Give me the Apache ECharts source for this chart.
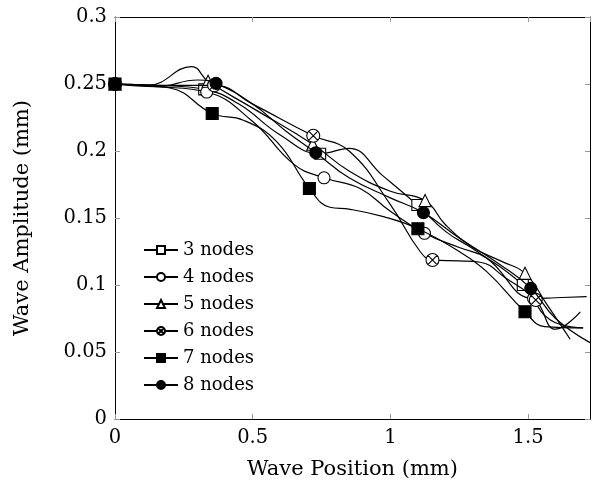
<!DOCTYPE html>
<html>
<head>
<meta charset="utf-8">
<script src="https://cdn.jsdelivr.net/npm/echarts@6/dist/echarts.min.js"></script>
<style>
  html, body { margin: 0; padding: 0; background: #fff; }
  #chart { width: 595px; height: 490px; }
</style>
</head>
<body>
<div id="chart"></div>
<script>
// series values; mk = 1 where a marker is drawn
var names = ['3 nodes', '4 nodes', '5 nodes', '6 nodes', '7 nodes', '8 nodes'];

var x3 = [0, 0.15, 0.324, 0.45, 0.6, 0.745, 0.85, 0.97, 1.098, 1.2, 1.3, 1.481, 1.58, 1.70];
var y3 = [0.25, 0.249, 0.246, 0.235, 0.212, 0.198, 0.202, 0.182, 0.1597, 0.14, 0.127, 0.1, 0.074, 0.068];
var mk3 = [1, 0, 1, 0, 0, 1, 0, 0, 1, 0, 0, 1, 0, 0];

var x4 = [0, 0.15, 0.333, 0.5, 0.65, 0.759, 0.89, 1.0, 1.124, 1.25, 1.35, 1.52, 1.6, 1.713];
var y4 = [0.25, 0.248, 0.244, 0.222, 0.19, 0.18, 0.172, 0.155, 0.1386, 0.128, 0.12, 0.09, 0.0905, 0.0913];
var mk4 = [1, 0, 1, 0, 0, 1, 0, 0, 1, 0, 0, 1, 0, 0];

var x5 = [0, 0.12, 0.278, 0.338, 0.5, 0.718, 0.85, 1.0, 1.126, 1.2, 1.3, 1.4, 1.489, 1.57, 1.653];
var y5 = [0.25, 0.249, 0.263, 0.252, 0.232, 0.205, 0.185, 0.17, 0.163, 0.145, 0.128, 0.118, 0.1087, 0.085, 0.0595];
var mk5 = [1, 0, 0, 1, 0, 1, 0, 0, 1, 0, 0, 0, 1, 0, 0];

var x6 = [0, 0.15, 0.36, 0.5, 0.72, 0.85, 1.0, 1.108, 1.153, 1.25, 1.326, 1.42, 1.528, 1.6, 1.69];
var y6 = [0.25, 0.249, 0.249, 0.235, 0.2114, 0.2, 0.16, 0.125, 0.1187, 0.118, 0.117, 0.105, 0.0888, 0.067, 0.080];
var mk6 = [1, 0, 1, 0, 1, 0, 0, 0, 1, 0, 0, 0, 1, 0, 0];

var x7 = [0, 0.2, 0.353, 0.466, 0.587, 0.706, 0.78, 0.854, 0.975, 1.1, 1.25, 1.35, 1.489, 1.56, 1.70];
var y7 = [0.25, 0.247, 0.228, 0.223, 0.207, 0.172, 0.158, 0.1565, 0.151, 0.142, 0.125, 0.11, 0.080, 0.069, 0.068];
var mk7 = [1, 0, 1, 0, 0, 1, 0, 0, 0, 1, 0, 0, 1, 0, 0];

var x8 = [0, 0.15, 0.3, 0.367, 0.5, 0.62, 0.729, 0.85, 1.0, 1.12, 1.25, 1.4, 1.51, 1.6, 1.725];
var y8 = [0.25, 0.248, 0.253, 0.2505, 0.235, 0.215, 0.1987, 0.18, 0.165, 0.154, 0.135, 0.115, 0.0975, 0.075, 0.057];
var mk8 = [1, 0, 0, 1, 0, 0, 1, 0, 0, 1, 0, 0, 1, 0, 0];

var xTicks = [0, 0.5, 1, 1.5];
var yTicks = [0, 0.05, 0.1, 0.15, 0.2, 0.25, 0.3];

var otimes = 'path://M0,-10A10,10 0 1,1 0,10A10,10 0 1,1 0,-10ZM-7.07,-7.07L7.07,7.07M7.07,-7.07L-7.07,7.07';
var symbols = ['rect', 'circle', 'triangle', otimes, 'rect', 'circle'];
var sizes = [11, 12, 12, 13, 12, 12];
var fills = ['#fff', '#fff', '#fff', '#fff', '#000', '#000'];

var FONT = 'DejaVu Serif';

function makeData(xs, ys, mk) {
	var arr = [];
	for (var i = 0; i < xs.length; i++) {
		var d = { value: [xs[i], ys[i]] };
		if (!mk[i]) d.symbol = 'none';
		arr.push(d);
	}
	return arr;
}

var all = [[x3, y3, mk3], [x4, y4, mk4], [x5, y5, mk5], [x6, y6, mk6], [x7, y7, mk7], [x8, y8, mk8]];

var series = [];
for (var s = 0; s < all.length; s++) {
	series.push({
		name: names[s],
		type: 'line',
		smooth: 0.45,
		symbol: symbols[s],
		symbolSize: sizes[s],
		showAllSymbol: true,
		lineStyle: { color: '#000', width: 1.2 },
		itemStyle: { color: fills[s], borderColor: '#000', borderWidth: 1.1, opacity: 1 },
		emphasis: { disabled: true },
		z: 2 + s,
		data: makeData(all[s][0], all[s][1], all[s][2])
	});
}

function axisBase(extra) {
	var a = {
		type: 'value',
		axisLine: { show: true, onZero: false, lineStyle: { color: '#000', width: 1 } },
		axisTick: { show: true, inside: true, length: 5, lineStyle: { color: '#999', width: 1 } },
		splitLine: { show: false }
	};
	for (var k in extra) a[k] = extra[k];
	return a;
}

var chart = echarts.init(document.getElementById('chart'));
chart.setOption({
	animation: false,
	backgroundColor: '#fff',
	grid: { left: 115, right: 5, top: 17, bottom: 71, containLabel: false },
	legend: {
		orient: 'vertical',
		left: 138,
		top: 236,
		itemWidth: 34,
		itemHeight: 10,
		itemGap: 9,
		textStyle: { fontFamily: FONT, fontSize: 18, color: '#000' },
		data: names
	},
	xAxis: [
		axisBase({
			min: 0, max: 1.725, interval: 0.5, position: 'bottom',
			name: 'Wave Position (mm)', nameLocation: 'middle', nameGap: 40,
			nameTextStyle: { fontFamily: FONT, fontSize: 21, color: '#000' },
			axisLabel: {
				fontFamily: FONT, fontSize: 19.5, color: '#000', margin: 9,
				showMaxLabel: false,
				formatter: function(v) { return xTicks.indexOf(v) >= 0 ? String(v) : ''; }
			}
		}),
		axisBase({
			min: 0, max: 1.725, interval: 0.5, position: 'top',
			axisLabel: { show: false }
		})
	],
	yAxis: [
		axisBase({
			min: 0, max: 0.3, interval: 0.05, position: 'left',
			name: 'Wave Amplitude (mm)', nameLocation: 'middle', nameGap: 82,
			nameTextStyle: { fontFamily: FONT, fontSize: 21, color: '#000' },
			axisLabel: {
				fontFamily: FONT, fontSize: 19.5, color: '#000', margin: 8,
				formatter: function(v) {
					for (var i = 0; i < yTicks.length; i++) {
						if (Math.abs(yTicks[i] - v) < 1e-9) return String(yTicks[i]);
					}
					return '';
				}
			}
		}),
		axisBase({
			min: 0, max: 0.3, interval: 0.05, position: 'right',
			axisLabel: { show: false }
		})
	],
	series: series
});
</script>
</body>
</html>
